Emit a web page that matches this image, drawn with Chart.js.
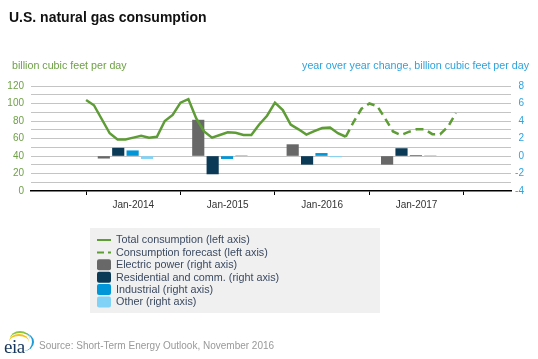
<!DOCTYPE html>
<html>
<head>
<meta charset="utf-8">
<script src="https://cdn.jsdelivr.net/npm/chart.js@4.4.0/dist/chart.umd.min.js"></script>
<style>
  body { margin: 0; background: #fff; font-family: "Liberation Sans", Arial, sans-serif; }
  #wrap { position: relative; width: 538px; height: 359px; overflow: hidden; }
  #myChart { position: absolute; left: 0; top: 0; }
  .txt { position: absolute; white-space: nowrap; line-height: 1; }
  #title { left: 9px; top: 10px; font-size: 14px; font-weight: bold; color: #111; }
  #unitL { left: 12px; top: 60px; font-size: 10.7px; color: #6ea146; }
  #unitR { right: 9px; top: 60px; font-size: 10.7px; color: #2ea3dc; }
  #source { left: 39px; top: 341px; font-size: 10px; color: #999; }
  #eia { left: 4px; top: 337px; font-family: "Liberation Serif", "DejaVu Serif", serif; font-size: 19px; color: #17375e; letter-spacing: -0.5px; }
  .arc { position: absolute; border-radius: 50%; border-style: solid; border-color: transparent; }
</style>
</head>
<body>
<div id="wrap">
  <canvas id="myChart" width="538" height="359"></canvas>
  <div class="txt" id="title">U.S. natural gas consumption</div>
  <div class="txt" id="unitL">billion cubic feet per day</div>
  <div class="txt" id="unitR">year over year change, billion cubic feet per day</div>
  <div class="arc" style="left:10px;top:331px;width:20px;height:14px;border-width:2px 0 0 0;border-top-color:#8cc63f;"></div>
  <div class="arc" style="left:9px;top:334px;width:20px;height:14px;border-width:2px 0 0 0;border-top-color:#f5c21b;"></div>
  <div class="arc" style="left:14px;top:333px;width:18px;height:18px;border-width:0 2px 0 0;border-right-color:#1f9bd7;"></div>
  <div class="txt" id="eia">eia</div>
  <div class="txt" id="source">Source: Short-Term Energy Outlook, November 2016</div>
</div>
<script>
// months are counted from Jan-2014 (index 0)
const totalConsumption = [104, 98, 82, 66, 59, 59, 61, 63, 61, 62, 80, 87,
  101, 105, 83, 68, 61, 64, 67, 66.5, 64, 64, 76, 86,
  101, 92.5, 76, 70.5, 64.5, 68.5, 72, 72.5, 66, 62];
const forecastStart = 33; // Oct-2016, last actual month
const forecastConsumption = [62, 79, 94, 100, 97, 83, 68, 64, 67.5, 70.5, 70.5, 65, 65, 73.5, 89];

const barYears = [2014, 2015, 2016, 2017];
const electricPower = [-0.25, 4.1, 1.3, -0.95];
const residentialComm = [0.9, -2.05, -0.95, 0.85];
const industrial = [0.6, -0.3, 0.3, 0.08];
const otherUse = [-0.3, 0.08, -0.1, 0.06];

const yearLabels = ['Jan-2014', 'Jan-2015', 'Jan-2016', 'Jan-2017'];
const yearTicks = [0, 12, 24, 36, 48];

const green = '#5e9c36';
const sectors = [
  { label: 'Electric power (right axis)', values: electricPower, color: '#686868' },
  { label: 'Residential and comm. (right axis)', values: residentialComm, color: '#0b3a57' },
  { label: 'Industrial (right axis)', values: industrial, color: '#0096d7' },
  { label: 'Other (right axis)', values: otherUse, color: '#80d3f7' }
];

const datasets = [
  {
    type: 'line', label: 'Total consumption (left axis)', yAxisID: 'y', order: 0,
    data: totalConsumption.map((v, i) => ({ x: i, y: v })),
    borderColor: green, borderWidth: 2.5, pointRadius: 0, tension: 0, fill: false
  },
  {
    type: 'line', label: 'Consumption forecast (left axis)', yAxisID: 'y', order: 0,
    data: forecastConsumption.map((v, i) => ({ x: forecastStart + i, y: v })),
    borderColor: green, borderWidth: 2.5, borderDash: [8, 5], pointRadius: 0, tension: 0, fill: false
  }
];
sectors.forEach((s, k) => {
  datasets.push({
    type: 'bar', label: s.label, yAxisID: 'y1', order: 1,
    grouped: false, barThickness: 11.5,
    backgroundColor: s.color, borderWidth: 0,
    data: s.values.map((v, j) => ({ x: (barYears[j] - 2014) * 12 + 5 + (k - 1.5) * 1.83, y: v }))
  });
});

const legendBox = {
  id: 'legendBox',
  afterDraw(chart) {
    const c = chart.ctx;
    c.save();
    c.fillStyle = '#f0f0f0';
    c.fillRect(90, 228, 290, 85);
    c.font = '10.8px "Liberation Sans", Arial, sans-serif';
    c.textBaseline = 'middle';
    chart.data.datasets.forEach((ds, i) => {
      const y = 240 + i * 12.4;
      if (ds.type === 'line') {
        c.strokeStyle = ds.borderColor;
        c.lineWidth = 2;
        c.setLineDash(ds.borderDash ? [7, 4] : []);
        c.beginPath();
        c.moveTo(97, y);
        c.lineTo(111, y);
        c.stroke();
        c.setLineDash([]);
      } else {
        c.fillStyle = ds.backgroundColor;
        c.beginPath();
        c.roundRect(97, y - 5.5, 14, 11, 2);
        c.fill();
      }
      c.fillStyle = '#3b4a61';
      c.fillText(ds.label, 116, y + 0.5);
    });
    c.restore();
  }
};

const ctx = document.getElementById('myChart');
const chart = new Chart(ctx, {
  type: 'line',
  data: { datasets: datasets },
  plugins: [legendBox],
  options: {
    responsive: false,
    animation: false,
    layout: { padding: { left: 0, right: 14, top: 86, bottom: 144 } },
    plugins: { legend: { display: false }, tooltip: { enabled: false } },
    scales: {
      x: {
        type: 'linear', position: 'bottom', weight: 0, min: -7, max: 54, offset: false,
        afterBuildTicks: s => { s.ticks = yearTicks.map(v => ({ value: v })); },
        afterFit: s => { s.height = 4; },
        ticks: { display: false },
        grid: { drawOnChartArea: false, drawTicks: true, tickLength: 4, color: '#000', lineWidth: 1, offset: false },
        border: { display: true, color: '#000', width: 1.5 }
      },
      xLabels: {
        axis: 'x', type: 'linear', position: 'bottom', weight: 1, min: -7, max: 54, offset: false,
        afterBuildTicks: s => { s.ticks = yearLabels.map((l, i) => ({ value: yearTicks[i] + 6 })); },
        afterFit: s => { s.height = 20; },
        ticks: {
          callback: (v, i) => yearLabels[i], padding: 4, maxRotation: 0, autoSkip: false,
          color: '#333', font: { family: '"Liberation Sans", Arial, sans-serif', size: 10 }
        },
        grid: { display: false, drawTicks: false },
        border: { display: false }
      },
      y: {
        position: 'left', min: 0, max: 120,
        afterFit: s => { s.width = 31; },
        ticks: {
          stepSize: 10, maxTicksLimit: 20, autoSkip: false, padding: 7, color: '#6ea146',
          font: { family: '"Liberation Sans", Arial, sans-serif', size: 10 },
          callback: v => (v % 20 === 0 ? v : '')
        },
        grid: { drawTicks: false, lineWidth: 1, color: c => (c.tick && c.tick.value === 0 ? 'rgba(0,0,0,0)' : '#c4c4c4') },
        border: { display: false }
      },
      y1: {
        position: 'right', min: -4, max: 8,
        afterFit: s => { s.width = 13; },
        ticks: {
          stepSize: 2, padding: 0, crossAlign: 'far', color: '#2ea3dc',
          font: { family: '"Liberation Sans", Arial, sans-serif', size: 10 }
        },
        grid: { drawOnChartArea: false, drawTicks: false },
        border: { display: false }
      }
    }
  }
});
</script>
</body>
</html>
